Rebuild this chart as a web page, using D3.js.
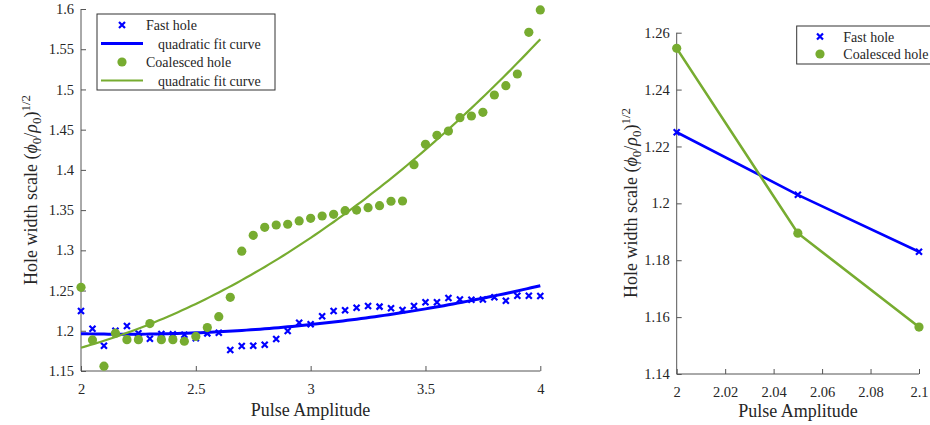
<!DOCTYPE html>
<html>
<head>
<meta charset="utf-8">
<script src="https://cdn.jsdelivr.net/npm/d3@7"></script>
<style>
  html, body { margin: 0; padding: 0; background: #fff; }
  svg text { font-family: "Liberation Serif", "Times New Roman", "DejaVu Serif", serif !important; fill: #262626; }
</style>
</head>
<body>
<svg id="chart" width="930" height="425"></svg>
<script>
// ---------- DATA ----------
const amplitude = [2.00,2.05,2.10,2.15,2.20,2.25,2.30,2.35,2.40,2.45,2.50,2.55,2.60,2.65,2.70,2.75,2.80,2.85,2.90,2.95,
                   3.00,3.05,3.10,3.15,3.20,3.25,3.30,3.35,3.40,3.45,3.50,3.55,3.60,3.65,3.70,3.75,3.80,3.85,3.90,3.95,4.00];
const fastHole = [1.2246,1.2026,1.1815,1.2001,1.2060,1.1969,1.1902,1.1960,1.1955,1.1950,1.1906,1.1968,1.1976,1.1761,1.1811,1.1815,1.1827,1.1898,1.1997,1.2100,
                  1.2080,1.2180,1.2246,1.2254,1.2287,1.2308,1.2300,1.2279,1.2258,1.2308,1.2354,1.2354,1.2407,1.2390,1.2386,1.2390,1.2416,1.2374,1.2436,1.2436,1.2432];
const coalescedHole = [1.2540,1.1886,1.1560,1.1970,1.1890,1.1890,1.2090,1.1890,1.1890,1.1870,1.1930,1.2040,1.2175,1.2416,1.2990,1.3187,1.3286,1.3315,1.3324,1.3365,
                       1.3398,1.3427,1.3448,1.3493,1.3501,1.3530,1.3555,1.3610,1.3613,1.4065,1.4318,1.4430,1.4483,1.4649,1.4670,1.4716,1.4931,1.5047,1.5192,1.5710,1.5988];

const zoomAmplitude = [2.00, 2.05, 2.10];
const zoomFast = [1.2250, 1.2030, 1.1830];
const zoomCoalesced = [1.2545, 1.1895, 1.1565];

const leftXTicks = [2, 2.5, 3, 3.5, 4];
const leftYTicks = [1.15, 1.2, 1.25, 1.3, 1.35, 1.4, 1.45, 1.5, 1.55, 1.6];
const rightXTicks = [2, 2.02, 2.04, 2.06, 2.08, 2.1];
const rightYTicks = [1.14, 1.16, 1.18, 1.2, 1.22, 1.24, 1.26];

const seriesNames = ["Fast hole", "Coalesced hole"];
const fitName = "quadratic fit curve";
const xLabel = "Pulse Amplitude";

const BLUE = "#0000ff", GREEN = "#77ac30";
const SERIF = '"Liberation Serif", "Times New Roman", "DejaVu Serif", serif';

// ---------- quadratic least squares fit ----------
function quadFit(xs, ys) {
  let S = [0,0,0,0,0], T = [0,0,0];
  xs.forEach((x, i) => {
    const y = ys[i];
    for (let k = 0; k < 5; k++) S[k] += Math.pow(x, k);
    for (let k = 0; k < 3; k++) T[k] += Math.pow(x, k) * y;
  });
  const A = [[S[0],S[1],S[2],T[0]],[S[1],S[2],S[3],T[1]],[S[2],S[3],S[4],T[2]]];
  for (let c = 0; c < 3; c++) {
    for (let r = c + 1; r < 3; r++) {
      const f = A[r][c] / A[c][c];
      for (let k = c; k < 4; k++) A[r][k] -= f * A[c][k];
    }
  }
  const b = [0,0,0];
  for (let r = 2; r >= 0; r--) {
    let s = A[r][3];
    for (let k = r + 1; k < 3; k++) s -= A[r][k] * b[k];
    b[r] = s / A[r][r];
  }
  return x => b[0] + b[1] * x + b[2] * x * x;
}

const svg = d3.select("#chart").attr("font-family", SERIF);
const TICK_FS = 14.5, LABEL_FS = 18, LEG_FS = 14;

function xMarker(g, x, y, color, s) {
  g.append("path")
    .attr("d", `M${x-s},${y-s}L${x+s},${y+s}M${x-s},${y+s}L${x+s},${y-s}`)
    .attr("stroke", color).attr("stroke-width", 2.2).attr("fill", "none");
}

function drawAxes(g, x, y, xTicks, yTicks, xFmt, yFmt) {
  const [x0, x1] = x.range();
  const [y0, y1] = y.range();
  g.append("line").attr("x1", x0).attr("x2", x1).attr("y1", y0).attr("y2", y0)
    .attr("stroke", "#555").attr("stroke-width", 1);
  g.append("line").attr("x1", x0).attr("x2", x0).attr("y1", y0).attr("y2", y1)
    .attr("stroke", "#555").attr("stroke-width", 1);
  const xa = d3.axisBottom(x).tickValues(xTicks).tickSize(-5).tickPadding(13).tickFormat(xFmt);
  const ya = d3.axisLeft(y).tickValues(yTicks).tickSize(-5).tickPadding(7).tickFormat(yFmt);
  const gx = g.append("g").attr("transform", `translate(0,${y0})`).call(xa);
  const gy = g.append("g").attr("transform", `translate(${x0},0)`).call(ya);
  [gx, gy].forEach(a => {
    a.attr("font-family", SERIF).attr("font-size", TICK_FS);
    a.select(".domain").remove();
    a.selectAll(".tick line").attr("stroke", "#555");
    a.selectAll(".tick text").style("font-family", SERIF)
      .style("font-size", TICK_FS + "px").attr("fill", "#262626");
  });
}

function yLabel(g, cx, cy) {
  const t = g.append("text")
    .attr("transform", `translate(${cx},${cy}) rotate(-90)`)
    .attr("text-anchor", "middle")
    .style("font-family", SERIF)
    .style("font-size", LABEL_FS + "px");
  t.append("tspan").text("Hole width scale (");
  t.append("tspan").style("font-style", "italic").text("\u03D5");
  t.append("tspan").attr("baseline-shift", "-30%").style("font-size", "13px").text("0");
  t.append("tspan").text("/");
  t.append("tspan").style("font-style", "italic").text("\u03C1");
  t.append("tspan").attr("baseline-shift", "-30%").style("font-size", "13px").text("0");
  t.append("tspan").text(")");
  t.append("tspan").attr("baseline-shift", "55%").style("font-size", "13px").text("1/2");
}

function txt(g, x, y, s, fs, anchor) {
  return g.append("text").attr("x", x).attr("y", y)
    .attr("text-anchor", anchor || "start")
    .style("font-family", SERIF).style("font-size", fs + "px").text(s);
}

// ---------- LEFT PLOT ----------
{
  const g = svg.append("g");
  const x = d3.scaleLinear().domain([2, 4]).range([81, 540.3]);
  const y = d3.scaleLinear().domain([1.15, 1.6]).range([371, 9]);

  drawAxes(g, x, y, leftXTicks, leftYTicks, d3.format("~g"), d3.format("~g"));

  const fitF = quadFit(amplitude, fastHole);
  const fitC = quadFit(amplitude, coalescedHole);
  const xs = d3.range(0, 101).map(i => 2 + i * 0.02);
  const line = f => d3.line().x(d => x(d)).y(d => y(f(d)));

  amplitude.forEach((a, i) => xMarker(g, x(a), y(fastHole[i]), BLUE, 3));
  g.append("path").datum(xs).attr("d", line(fitF))
    .attr("fill", "none").attr("stroke", BLUE).attr("stroke-width", 3);
  g.selectAll(".cdot").data(amplitude).enter().append("circle")
    .attr("cx", d => x(d)).attr("cy", (d, i) => y(coalescedHole[i])).attr("r", 4.6)
    .attr("fill", GREEN);
  g.append("path").datum(xs).attr("d", line(fitC))
    .attr("fill", "none").attr("stroke", GREEN).attr("stroke-width", 2.2);

  txt(g, 310.5, 416, xLabel, LABEL_FS, "middle");
  yLabel(g, 36.5, 190);

  const lg = g.append("g");
  lg.append("rect").attr("x", 97).attr("y", 14).attr("width", 178).attr("height", 76)
    .attr("fill", "#fff").attr("stroke", "#333").attr("stroke-width", 1);
  const rows = [25, 43.5, 62, 80.5];
  xMarker(lg, 122, rows[0], BLUE, 3);
  txt(lg, 146, rows[0] + 5, seriesNames[0], LEG_FS);
  lg.append("line").attr("x1", 101).attr("x2", 143).attr("y1", rows[1]).attr("y2", rows[1])
    .attr("stroke", BLUE).attr("stroke-width", 3);
  txt(lg, 158, rows[1] + 5, fitName, LEG_FS);
  lg.append("circle").attr("cx", 122).attr("cy", rows[2]).attr("r", 4.6).attr("fill", GREEN);
  txt(lg, 146, rows[2] + 5, seriesNames[1], LEG_FS);
  lg.append("line").attr("x1", 101).attr("x2", 143).attr("y1", rows[3]).attr("y2", rows[3])
    .attr("stroke", GREEN).attr("stroke-width", 2.2);
  txt(lg, 158, rows[3] + 5, fitName, LEG_FS);
}

// ---------- RIGHT PLOT ----------
{
  const g = svg.append("g");
  const x = d3.scaleLinear().domain([2, 2.1]).range([676.7, 919]);
  const y = d3.scaleLinear().domain([1.14, 1.26]).range([374, 32.7]);

  drawAxes(g, x, y, rightXTicks, rightYTicks, d3.format("~g"), d3.format("~g"));

  const pts = vals => zoomAmplitude.map((a, i) => [x(a), y(vals[i])]);
  g.append("path").attr("d", d3.line()(pts(zoomFast)))
    .attr("fill", "none").attr("stroke", BLUE).attr("stroke-width", 2.6);
  pts(zoomFast).forEach(p => xMarker(g, p[0], p[1], BLUE, 3));
  g.append("path").attr("d", d3.line()(pts(zoomCoalesced)))
    .attr("fill", "none").attr("stroke", GREEN).attr("stroke-width", 2.6);
  g.selectAll(".zdot").data(pts(zoomCoalesced)).enter().append("circle")
    .attr("cx", d => d[0]).attr("cy", d => d[1]).attr("r", 4.6).attr("fill", GREEN);

  txt(g, 798, 416.5, xLabel, LABEL_FS, "middle");
  yLabel(g, 636.5, 203);

  const lg = g.append("g");
  lg.append("rect").attr("x", 796.7).attr("y", 26).attr("width", 150).attr("height", 38)
    .attr("fill", "#fff").attr("stroke", "#333").attr("stroke-width", 1);
  xMarker(lg, 820, 36.5, BLUE, 3);
  txt(lg, 843.3, 41.5, seriesNames[0], LEG_FS);
  lg.append("circle").attr("cx", 820).attr("cy", 54).attr("r", 4.6).attr("fill", GREEN);
  txt(lg, 843.3, 59, seriesNames[1], LEG_FS);
}
</script>
</body>
</html>
